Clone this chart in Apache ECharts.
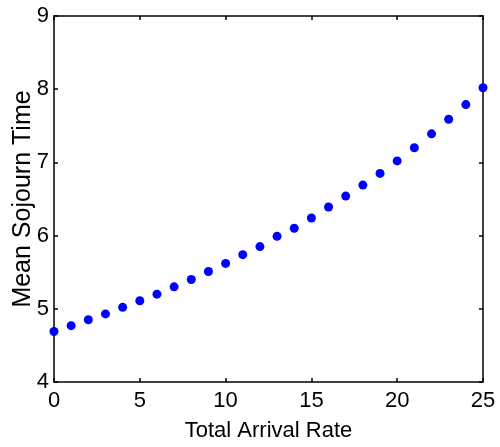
<!DOCTYPE html>
<html>
<head>
<meta charset="utf-8">
<script src="https://cdn.jsdelivr.net/npm/echarts@6/dist/echarts.min.js"></script>
<style>
  html, body { margin: 0; padding: 0; background: #fff; }
  #chart { width: 500px; height: 447px; }
</style>
</head>
<body>
<div id="chart"></div>
<script>
// arrival rate on x, mean sojourn time on y
const arrivalRate = [0, 1, 2, 3, 4, 5, 6, 7, 8, 9, 10, 11, 12,
    13, 14, 15, 16, 17, 18, 19, 20, 21, 22, 23, 24, 25]
const sojournTime = [4.69, 4.77, 4.85, 4.93, 5.02, 5.11, 5.20, 5.30, 5.40, 5.51, 5.62, 5.74, 5.85,
    5.99, 6.10, 6.24, 6.39, 6.54, 6.69, 6.85, 7.02, 7.20, 7.39, 7.59, 7.79, 8.02]

const points = arrivalRate.map((x, i) => [x, sojournTime[i]])

const font = 'Liberation Sans, Arial, sans-serif'
const lineStyle = { color: '#000', width: 1.5 }

// matlab style frame: ticks inside on all four sides
function frameAxis(extra) {
    return Object.assign({
        type: 'value',
        axisLine: { show: true, onZero: false, lineStyle: lineStyle },
        axisTick: { show: true, inside: true, length: 4, lineStyle: lineStyle },
        splitLine: { show: false },
        axisLabel: { show: false }
    }, extra)
}

const chart = echarts.init(document.getElementById('chart'))
chart.setOption({
    animation: false,
    backgroundColor: '#fff',
    grid: { left: 54, top: 16, right: 17, bottom: 65, outerBoundsMode: 'none', containLabel: false },
    xAxis: [
        frameAxis({
            min: 0, max: 25, interval: 5,
            name: 'Total Arrival Rate',
            nameLocation: 'middle',
            nameGap: 38,
            nameMoveOverlap: false,
            nameTextStyle: { color: '#000', fontSize: 22, fontFamily: font },
            axisLabel: { show: true, color: '#000', fontSize: 22, fontFamily: font, margin: 8 }
        }),
        frameAxis({ position: 'top', min: 0, max: 25, interval: 5 })
    ],
    yAxis: [
        frameAxis({
            min: 4, max: 9, interval: 1,
            name: 'Mean Sojourn Time',
            nameLocation: 'middle',
            nameGap: 18,
            nameMoveOverlap: false,
            nameTextStyle: { color: '#000', fontSize: 25, fontFamily: font },
            axisLabel: { show: true, color: '#000', fontSize: 22, fontFamily: font, margin: 5 }
        }),
        frameAxis({ position: 'right', min: 4, max: 9, interval: 1 })
    ],
    series: [{
        type: 'scatter',
        data: points,
        symbol: 'circle',
        symbolSize: 9,
        itemStyle: { color: '#0000ff', opacity: 1 }
    }]
})
</script>
</body>
</html>
